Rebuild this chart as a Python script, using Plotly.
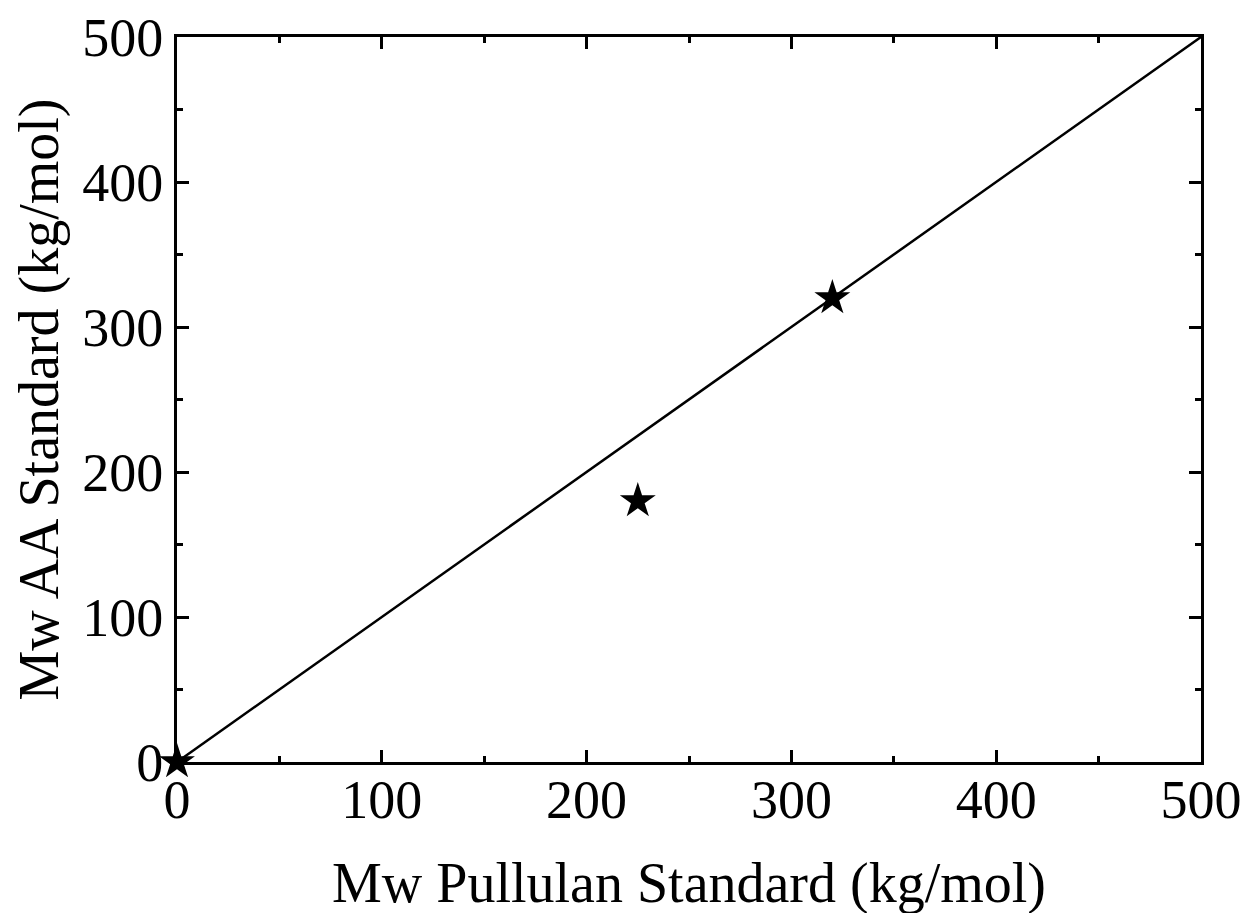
import plotly.graph_objects as go

pullulan_mw = [0, 225, 320]
aa_mw = [0, 180, 320]
line_x = [0, 500]
line_y = [0, 500]
tick_vals = [0, 100, 200, 300, 400, 500]

fig = go.Figure()
fig.add_trace(go.Scatter(x=line_x, y=line_y, mode="lines",
                         line=dict(color="black", width=2.5), showlegend=False))
fig.add_trace(go.Scatter(x=pullulan_mw, y=aa_mw, mode="markers",
                         marker=dict(symbol="star", size=27, color="black"),
                         cliponaxis=False, showlegend=False))

axis_common = dict(
    range=[0, 500], tickvals=tick_vals, ticks="inside", ticklen=12, tickwidth=2.5,
    tickcolor="black", showline=True, linecolor="black", linewidth=3, mirror="ticks",
    showgrid=False, zeroline=False, ticklabeloverflow="allow",
    tickfont=dict(family="Liberation Serif", size=54, color="black"),
    minor=dict(ticks="inside", ticklen=6, tickwidth=2.5, tickcolor="black", dtick=50, showgrid=False),
)

fig.update_layout(
    width=1250, height=913,
    margin=dict(l=169, r=57, t=29, b=159, autoexpand=False),
    paper_bgcolor="white", plot_bgcolor="white",
    xaxis=dict(**axis_common, ticklabelstandoff=-12, automargin=False,
               title=dict(text="Mw Pullulan Standard (kg/mol)", standoff=35,
                          font=dict(family="Liberation Serif", size=56, color="black"))),
    yaxis=dict(**axis_common, automargin=False,
               title=dict(text="Mw AA Standard (kg/mol)", standoff=14,
                          font=dict(family="Liberation Serif", size=56, color="black"))),
)

fig.write_html("out.html")
